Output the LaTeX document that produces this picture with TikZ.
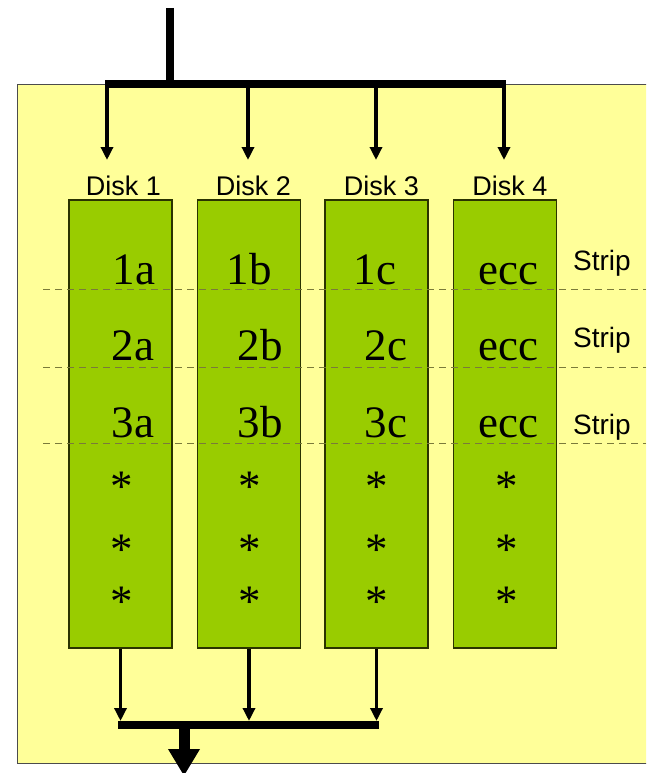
\documentclass[tikz,border=0pt]{standalone}
\usepackage{fontspec}
\setmainfont{Liberation Serif}
\newfontfamily\labelfont{Liberation Sans}
\usetikzlibrary{arrows.meta}

\definecolor{panelyellow}{HTML}{FFFF99}
\definecolor{diskgreen}{HTML}{99CC00}
\definecolor{diskedge}{HTML}{2A3300}
\definecolor{stripline}{HTML}{7A7A3A}

\tikzset{
  diskbox/.style={draw=diskedge, line width=1.2pt, fill=diskgreen,
    minimum width=103pt, minimum height=448pt, inner sep=0pt},
  disklabel/.style={font=\labelfont\fontsize{27}{27}\selectfont, anchor=base, inner sep=0pt},
  striplabel/.style={font=\labelfont\fontsize{28}{28}\selectfont, anchor=base west, inner sep=0pt},
  block/.style={font=\fontsize{45}{45}\selectfont, anchor=base, inner sep=0pt},
  star/.style={font=\fontsize{45}{45}\selectfont, anchor=base, inner sep=0pt},
  bus/.style={line width=8pt},
  feed/.style={line width=3.5pt, -{Triangle[length=13pt,width=12pt]}},
  outflow/.style={line width=11pt, -{Triangle[length=27pt,width=30pt]}},
  stripsep/.style={draw=stripline, line width=1pt, dash pattern=on 7pt off 5pt},
}

\begin{document}
\begin{tikzpicture}[x=1pt,y=-1pt]
  \useasboundingbox (0,0) rectangle (646,773);
  \clip (0,0) rectangle (646,773);

  % controller panel
  \fill[panelyellow, draw=black!70, line width=1pt] (17,85) rectangle (660,763);

  % the four disks
  \node[diskbox] (disk1) at (120.5,424) {};
  \node[diskbox] (disk2) at (249,424) {};
  \node[diskbox] (disk3) at (376.5,424) {};
  \node[diskbox] (disk4) at (505,424) {};

  \node[disklabel] (lab1) at (123.5,195) {Disk 1};
  \node[disklabel] (lab2) at (253.5,195) {Disk 2};
  \node[disklabel] (lab3) at (381.5,195) {Disk 3};
  \node[disklabel] (lab4) at (510,195) {Disk 4};

  % strip boundaries
  \coordinate (s1l) at (43,289);  \coordinate (s1r) at (646,289);
  \coordinate (s2l) at (43,367);  \coordinate (s2r) at (646,367);
  \coordinate (s3l) at (43,443);  \coordinate (s3r) at (646,443);
  \draw[stripsep] (s1l) -- (s1r);
  \draw[stripsep] (s2l) -- (s2r);
  \draw[stripsep] (s3l) -- (s3r);

  % blocks
  \node[block] (b1a) at (134,284) {1a};
  \node[block] (b1b) at (249,284) {1b};
  \node[block] (b1c) at (375,284) {1c};
  \node[block] (e1)  at (508,284) {ecc};
  \node[block] (b2a) at (133,360) {2a};
  \node[block] (b2b) at (260,360) {2b};
  \node[block] (b2c) at (386,360) {2c};
  \node[block] (e2)  at (508,360) {ecc};
  \node[block] (b3a) at (133,437) {3a};
  \node[block] (b3b) at (260,437) {3b};
  \node[block] (b3c) at (386,437) {3c};
  \node[block] (e3)  at (508,437) {ecc};

  % remaining blocks
  \foreach \cx/\k in {122/1,250/2,377/3,507/4}{
    \foreach \cy/\r in {480/1,543/2,595/3}{
      \node[star] (st\k\r) at (\cx,\cy+21) {*};
    }
  }

  \node[striplabel] (strip1) at (573,270) {Strip};
  \node[striplabel] (strip2) at (573,347) {Strip};
  \node[striplabel] (strip3) at (573,434) {Strip};

  % incoming data bus
  \coordinate (in)    at (170,8);
  \coordinate (inbus) at (170,85);
  \coordinate (busL)  at (107,84);
  \coordinate (busR)  at (504,84);
  \draw[bus] (in) -- (inbus);
  \draw[bus, line cap=butt] ([xshift=-2pt]busL) -- ([xshift=2pt]busR);

  \coordinate (t1) at (107,84);  \coordinate (h1) at (107,160);
  \coordinate (t2) at (248,84);  \coordinate (h2) at (248,160);
  \coordinate (t3) at (376,84);  \coordinate (h3) at (376,160);
  \coordinate (t4) at (504,84);  \coordinate (h4) at (504,160);
  \draw[feed] (t1) -- (h1);
  \draw[feed] (t2) -- (h2);
  \draw[feed] (t3) -- (h3);
  \draw[feed] (t4) -- (h4);

  % outgoing data bus
  \coordinate (o1) at (120.5,721);
  \coordinate (o2) at (249,721);
  \coordinate (o3) at (376.5,721);
  \draw[feed] (disk1.south) -- (o1);
  \draw[feed] (disk2.south) -- (o2);
  \draw[feed] (disk3.south) -- (o3);
  \coordinate (obL) at (118,725);
  \coordinate (obR) at (379,725);
  \draw[bus] (obL) -- (obR);
  \coordinate (out)    at (184,725);
  \coordinate (outtip) at (184,776);
  \draw[outflow] (out) -- (outtip);
\end{tikzpicture}
\end{document}
